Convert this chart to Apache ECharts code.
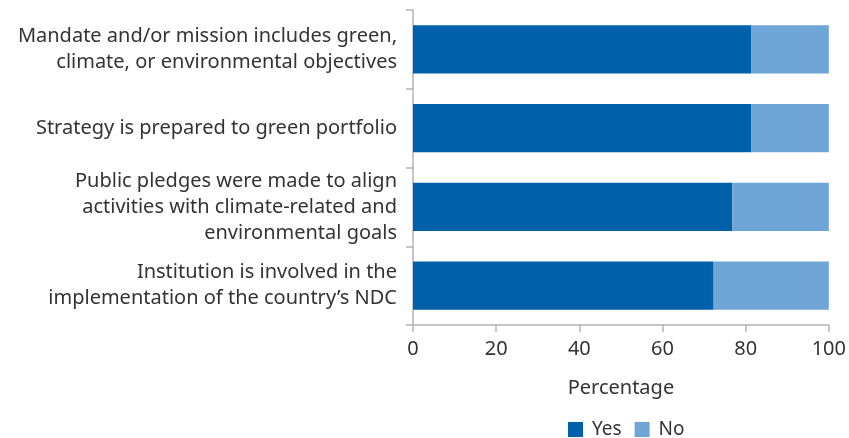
<!DOCTYPE html>
<html><head><meta charset="utf-8">
<script src="https://cdn.jsdelivr.net/npm/echarts@6/dist/echarts.min.js"></script>
<style>html,body{margin:0;padding:0;background:#fff}#c{width:849px;height:438px}</style>
</head><body><div id="c"></div>
<script>
const categories = [
  "Mandate and/or mission includes green,\nclimate, or environmental objectives",
  "Strategy is prepared to green portfolio",
  "Public pledges were made to align\nactivities with climate-related and\nenvironmental goals",
  "Institution is involved in the\nimplementation of the country’s NDC"
];
const yesValues = [81.4, 81.4, 76.8, 72.3];
const noValues = [18.6, 18.6, 23.3, 27.7];
const xTicks = [0, 20, 40, 60, 80, 100];

const font = "'Noto Sans', 'Open Sans', sans-serif";
const chart = echarts.init(document.getElementById('c'), null, {renderer: 'canvas'});
chart.setOption({
  animation: false,
  grid: {left: 413, right: 17, top: 10, bottom: 113, containLabel: false},
  legend: {
    top: 415, left: 563, itemWidth: 15, itemHeight: 15, itemGap: 13,
    icon: 'rect',
    textStyle: {fontFamily: font, fontSize: 19, color: '#333', padding: [0, 0, 0, 4]},
    data: ['Yes', 'No']
  },
  xAxis: {
    type: 'value', min: xTicks[0], max: xTicks[xTicks.length - 1], interval: 20,
    name: 'Percentage', nameLocation: 'middle', nameGap: 53,
    nameTextStyle: {fontFamily: font, fontSize: 20, color: '#333'},
    axisLine: {show: true, lineStyle: {color: '#b3b3b3', width: 1.5}},
    axisTick: {show: true, length: 7, lineStyle: {color: '#b3b3b3', width: 1.5}},
    axisLabel: {fontFamily: font, fontSize: 20, color: '#333', margin: 14},
    splitLine: {show: false}
  },
  yAxis: {
    type: 'category', data: categories, inverse: true,
    axisLine: {show: true, lineStyle: {color: '#b3b3b3', width: 1.5}},
    axisTick: {show: true, length: 7, lineStyle: {color: '#b3b3b3', width: 1.5}},
    axisLabel: {fontFamily: font, fontSize: 20, color: '#333', margin: 16, lineHeight: 26, align: 'right'}
  },
  series: [
    {name: 'Yes', type: 'bar', stack: 'a', data: yesValues, barCategoryGap: '39%',
     itemStyle: {color: '#0061aa'}},
    {name: 'No', type: 'bar', stack: 'a', data: noValues, barCategoryGap: '39%',
     itemStyle: {color: '#70a5d7'}}
  ]
});
</script></body></html>
